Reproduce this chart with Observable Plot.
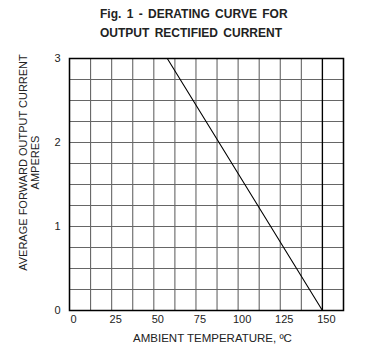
<!DOCTYPE html>
<html>
<head>
<meta charset="utf-8">
<script src="https://cdn.jsdelivr.net/npm/d3@7"></script>
<script src="https://cdn.jsdelivr.net/npm/@observablehq/plot@0.6"></script>
<style>
  html, body { margin: 0; padding: 0; background: #fff; }
  #wrap { width: 383px; height: 357px; position: relative; font-family: "Liberation Sans", Arial, sans-serif; }
  #title { height: 45px; box-sizing: border-box; padding-left: 100px; padding-top: 5px; font-weight: bold; font-size: 12px; line-height: 19px; color: #222; word-spacing: 2px; }
  #title div { white-space: nowrap; }
</style>
</head>
<body>
<div id="wrap">
  <div id="title"><div>Fig. 1 - DERATING CURVE FOR</div><div>OUTPUT RECTIFIED CURRENT</div></div>
  <div id="chart"></div>
</div>
<script>
const titleLines = ["Fig. 1 - DERATING CURVE FOR", "OUTPUT RECTIFIED CURRENT"];
const xLabel = "AMBIENT TEMPERATURE, ºC";
const yLabel = "AVERAGE FORWARD OUTPUT CURRENT\nAMPERES";
const xTicks = [0, 25, 50, 75, 100, 125, 150];
const yTicks = [0, 1, 2, 3];
const xGrid = [0, 12.5, 25, 37.5, 50, 62.5, 75, 87.5, 100, 112.5, 125, 137.5, 150, 162.5];
const yGrid = [0, 0.25, 0.5, 0.75, 1, 1.25, 1.5, 1.75, 2, 2.25, 2.5, 2.75, 3];
const temperature = [58, 150];
const current = [3, 0];

const curve = temperature.map((t, i) => ({t, a: current[i]}));

const chart = Plot.plot({
  width: 383,
  height: 312,
  marginTop: 13,
  marginBottom: 47,
  marginLeft: 69,
  marginRight: 40,
  style: {fontFamily: "'Liberation Sans', Arial, sans-serif", fontSize: "11px", color: "#222", background: "#fff"},
  x: {domain: [0, 162.5]},
  y: {domain: [0, 3]},
  marks: [
    Plot.ruleX(xGrid, {stroke: "#666", strokeWidth: 1.1}),
    Plot.ruleY(yGrid, {stroke: "#666", strokeWidth: 1.1}),
    Plot.ruleX([150], {stroke: "#000", strokeWidth: 1.3}),
    Plot.frame({stroke: "#000", strokeWidth: 1.5}),
    Plot.line(curve, {x: "t", y: "a", stroke: "#000", strokeWidth: 1.1}),
    Plot.axisX(xTicks, {tickSize: 0, tickPadding: 5, dx: 4, fontSize: 11, label: null, tickFormat: "d"}),
    Plot.axisY(yTicks, {tickSize: 0, tickPadding: 9, fontSize: 11, label: null, tickFormat: "d"}),
    Plot.text([xLabel], {frameAnchor: "bottom", dx: 6, dy: 28, lineAnchor: "middle", textAnchor: "middle", fontSize: 11.5, fill: "#222"}),
    Plot.text([yLabel], {frameAnchor: "left", dx: -40, dy: -22, rotate: -90, lineAnchor: "middle", textAnchor: "middle", fontSize: 11, lineHeight: 1.1, fill: "#222"})
  ]
});
document.getElementById("chart").appendChild(chart);
</script>
</body>
</html>
